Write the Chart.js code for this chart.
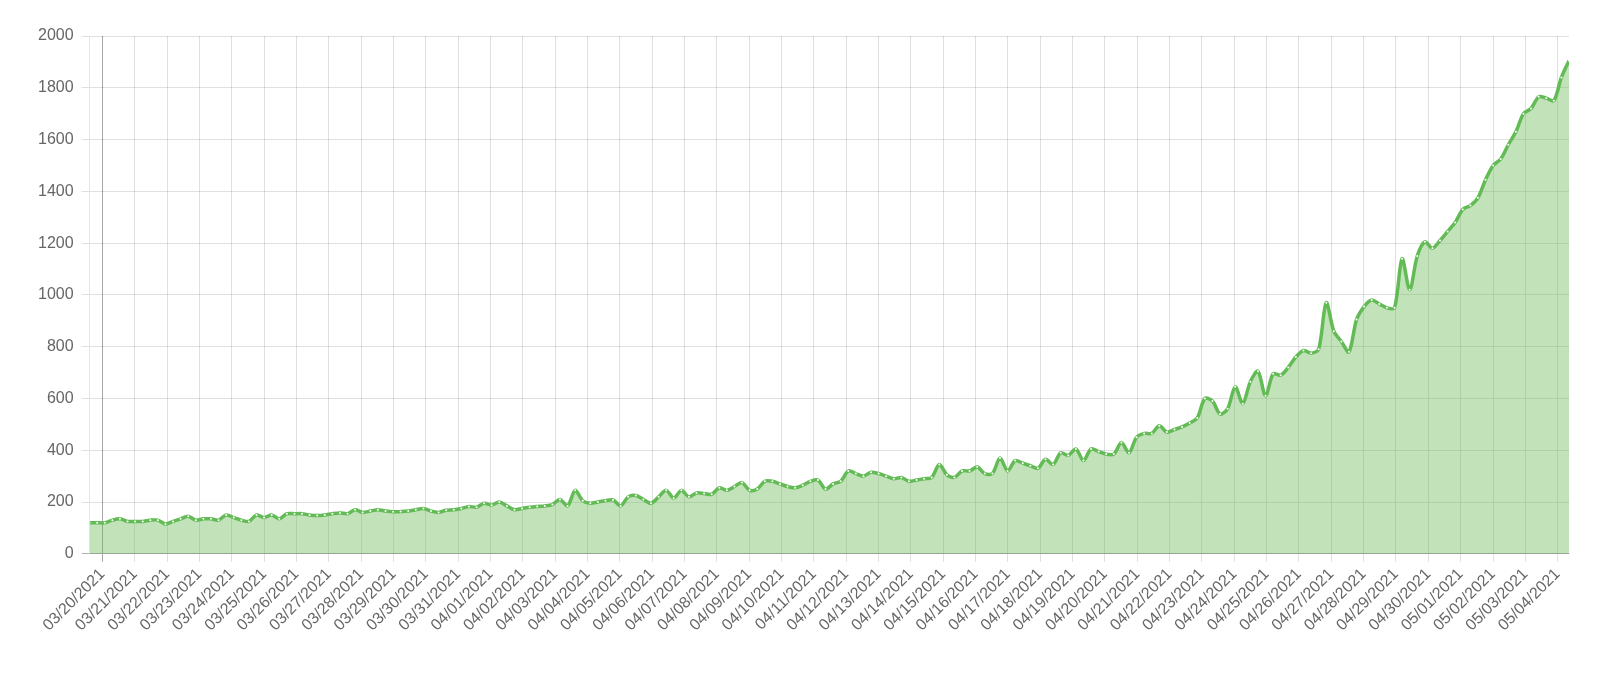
<!DOCTYPE html>
<html><head><meta charset="utf-8">
<script src="https://cdn.jsdelivr.net/npm/chart.js@4"></script>
<style>body{margin:0;background:#fff}#w{width:1600px;height:700px}</style>
</head><body><div id="w"><canvas id="c"></canvas></div>
<script>
const startDate = [2021, 2, 20];
const firstOffset = -0.4;
const lastOffset = 45.35;
const values = [120,120,120,130,135,125,125,125,130,130,115,125,135,145,130,135,135,130,150,140,130,125,150,140,150,135,155,155,155,150,148,150,155,158,155,170,160,165,170,165,162,163,165,170,175,165,160,168,170,175,183,180,195,188,200,185,170,175,180,183,185,190,210,185,245,205,195,200,205,208,185,220,225,210,195,220,245,215,245,220,235,233,230,255,245,260,275,245,250,280,280,270,260,255,265,280,285,250,270,280,320,310,300,315,310,300,290,295,280,285,290,295,345,305,295,320,320,335,310,310,370,320,360,350,340,330,365,345,390,380,405,360,405,395,385,385,430,390,450,465,465,495,470,480,490,505,525,600,590,540,560,645,580,665,705,610,695,690,720,760,785,775,790,970,860,820,780,905,955,980,965,950,950,1140,1020,1150,1205,1180,1210,1245,1280,1330,1345,1375,1445,1500,1525,1580,1630,1700,1720,1765,1760,1750,1840,1905];
const yTicks = [0,200,400,600,800,1000,1200,1400,1600,1800,2000];
const stepDays = (lastOffset-firstOffset)/(values.length-1);
const pts = values.map((v,i)=>({x:firstOffset+i*stepDays,y:v}));
function fmt(d){const dt=new Date(startDate[0],startDate[1],startDate[2]+d);return String(dt.getMonth()+1).padStart(2,'0')+'/'+String(dt.getDate()).padStart(2,'0')+'/'+dt.getFullYear();}
const F={family:'Liberation Sans',size:16};
new Chart(document.getElementById('c'),{type:'line',
data:{datasets:[{data:pts,borderColor:'#63bb55',borderWidth:3.5,backgroundColor:'rgba(110,185,90,0.42)',fill:true,tension:0.3,pointRadius:1,pointBackgroundColor:'#fff',pointBorderWidth:0}]},
options:{responsive:true,maintainAspectRatio:false,animation:false,
layout:{padding:{top:36,right:31,bottom:62,left:30}},
plugins:{legend:{display:false},tooltip:{enabled:false}},
scales:{
x:{type:'linear',min:firstOffset,max:lastOffset,
afterBuildTicks:a=>{const t=[];for(let d=0;d<=Math.floor(lastOffset);d++)t.push({value:d});a.ticks=t;},
ticks:{callback:v=>fmt(v),maxRotation:45,minRotation:45,autoSkip:false,color:'#666',font:F},
grid:{color:c=>c.tick&&c.tick.value===0?'rgba(0,0,0,0.35)':'rgba(0,0,0,0.12)',tickLength:8}},
y:{min:0,max:2000,afterBuildTicks:a=>{a.ticks=yTicks.map(v=>({value:v}));},
ticks:{callback:v=>String(v),color:'#666',font:F,padding:8},
grid:{color:c=>c.tick&&c.tick.value===0?'rgba(0,0,0,0.3)':'rgba(0,0,0,0.12)',tickLength:8}}}}});
</script></body></html>
